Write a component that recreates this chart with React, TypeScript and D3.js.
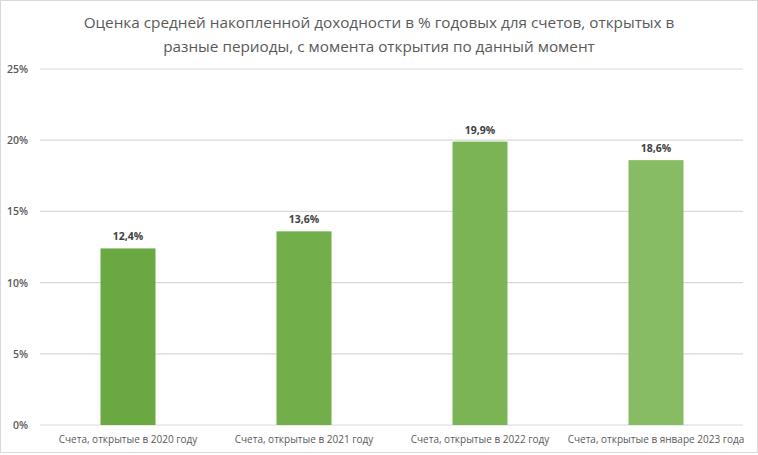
import React from "react";
import * as d3 from "d3";

const categories = [
  "Счета, открытые в 2020 году",
  "Счета, открытые в 2021 году",
  "Счета, открытые в 2022 году",
  "Счета, открытые в январе 2023 года",
];
const values = [12.4, 13.6, 19.9, 18.6];
const barColors = ["#6aa842", "#72ae49", "#7bb455", "#87bc64"];
const yTicks = [0, 5, 10, 15, 20, 25];
const titleLines = [
  "Оценка средней накопленной доходности в % годовых для счетов, открытых в",
  "разные периоды, с момента открытия по данный момент",
];

const W = 758;
const H = 455;
const left = 40;
const right = 744;
const top = 69;
const bottom = 425;
const font = "'Open Sans', 'Noto Sans', sans-serif";

export default function App() {
  const x = d3
    .scaleBand<string>()
    .domain(categories)
    .range([left, right])
    .paddingInner(0.6875)
    .paddingOuter(0.34375);
  const y = d3.scaleLinear().domain([0, 25]).range([bottom, top]);
  const fmt = (v: number) => v.toFixed(1).replace(".", ",") + "%";

  return (
    <svg
      width={W}
      height={H}
      style={{ position: "absolute", left: 0, top: 0, background: "#fff" }}
      fontFamily={font}
    >
      <rect x={0.5} y={0.5} width={W - 1} height={H - 3} fill="#fff" stroke="#d9d9d9" />
      {titleLines.map((t, i) => (
        <text
          key={i}
          x={W / 2}
          y={28 + i * 24}
          textAnchor="middle"
          fontSize={15.3}
          fill="#595959"
        >
          {t}
        </text>
      ))}
      {yTicks.map((t) => (
        <g key={t}>
          <line x1={left} x2={right - 1} y1={y(t)} y2={y(t)} stroke="#d9d9d9" strokeWidth={1.2} />
          <text
            x={28}
            y={y(t) + 4}
            textAnchor="end"
            fontSize={10.5}
            fontWeight={600}
            fill="#595959"
          >
            {t}%
          </text>
        </g>
      ))}
      {categories.map((c, i) => (
        <g key={c}>
          <rect
            x={x(c)}
            y={y(values[i])}
            width={x.bandwidth()}
            height={y(0) - y(values[i])}
            fill={barColors[i]}
          />
          <text
            x={(x(c) as number) + x.bandwidth() / 2}
            y={y(values[i]) - 8}
            textAnchor="middle"
            fontSize={10.5}
            fontWeight={700}
            fill="#404040"
          >
            {fmt(values[i])}
          </text>
          <text
            x={(x(c) as number) + x.bandwidth() / 2}
            y={443}
            textAnchor="middle"
            fontSize={10}
            fill="#595959"
          >
            {c}
          </text>
        </g>
      ))}
    </svg>
  );
}
